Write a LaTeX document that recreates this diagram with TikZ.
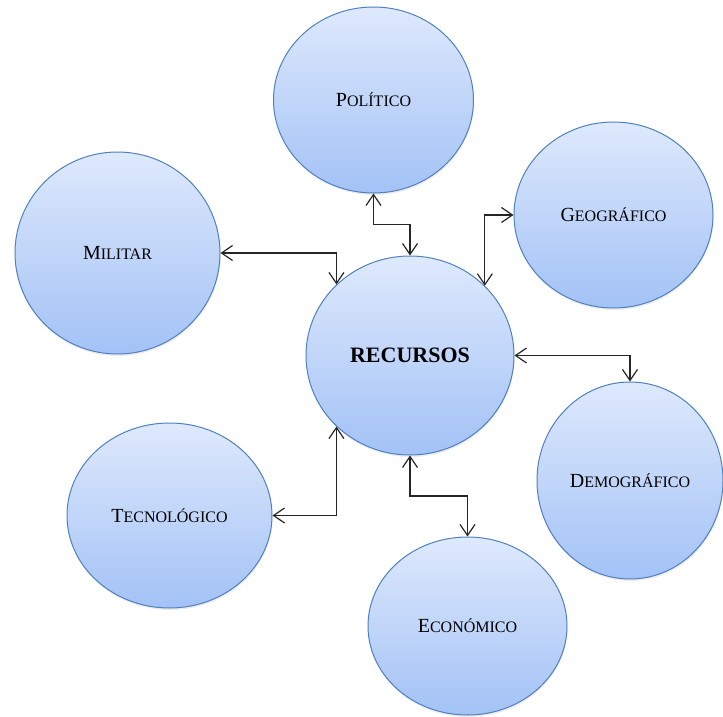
\documentclass[tikz,border=0pt]{standalone}
\usepackage{fontspec}
\setmainfont{Liberation Serif}
\usetikzlibrary{shapes.geometric,arrows.meta,calc,shadows}
\newcommand\fsc[2]{#1{\fontsize{16}{16}\selectfont #2}}
\definecolor{bordo}{RGB}{79,129,189}
\definecolor{topc}{RGB}{222,233,252}
\definecolor{botc}{RGB}{163,194,246}
\tikzset{
  bubble/.style={ellipse, draw=bordo, line width=1pt, top color=topc, bottom color=botc,
    inner sep=0pt, font=\fontsize{20}{20}\selectfont,
    drop shadow={opacity=0.15, shadow xshift=0.5pt, shadow yshift=-2pt}},
  link/.style={draw=black!85, line width=1.2pt, {Straight Barb[length=11pt,width=15pt,line width=1.2pt]}-{Straight Barb[length=11pt,width=15pt,line width=1.2pt]}}
}
\begin{document}
\begin{tikzpicture}[x=1pt,y=-1pt]
\useasboundingbox (0,0) rectangle (723,717);
\node[bubble, minimum width=200pt, minimum height=186pt] (pol) at (373.5,100) {\fsc{P}{OLÍTICO}};
\node[bubble, minimum width=205pt, minimum height=202pt] (mil) at (117.5,253) {\fsc{M}{ILITAR}};
\node[bubble, minimum width=199pt, minimum height=186pt] (geo) at (613.5,215) {\fsc{G}{EOGRÁFICO}};
\node[bubble, minimum width=208pt, minimum height=199pt, font=\fontsize{22}{22}\selectfont\bfseries] (rec) at (410,355.5) {RECURSOS};
\node[bubble, minimum width=186pt, minimum height=197pt] (dem) at (630,480.5) {\fsc{D}{EMOGRÁFICO}};
\node[bubble, minimum width=205pt, minimum height=185pt] (tec) at (169.5,515.5) {\fsc{T}{ECNOLÓGICO}};
\node[bubble, minimum width=199pt, minimum height=178pt] (eco) at (467.5,626) {\fsc{E}{CONÓMICO}};
\draw[link] (mil.east) -| (rec.136);
\draw[link] (pol.south) |- ($(pol.south)!0.5!(rec.north)$) -| (rec.north);
\draw[link] (geo.west) -| (rec.43);
\draw[link] (rec.east) -| (dem.north);
\draw[link] (tec.east) -| (rec.224);
\draw[link] (rec.south) |- ($(rec.south)!0.5!(eco.north)$) -| (eco.north);
\end{tikzpicture}
\end{document}
